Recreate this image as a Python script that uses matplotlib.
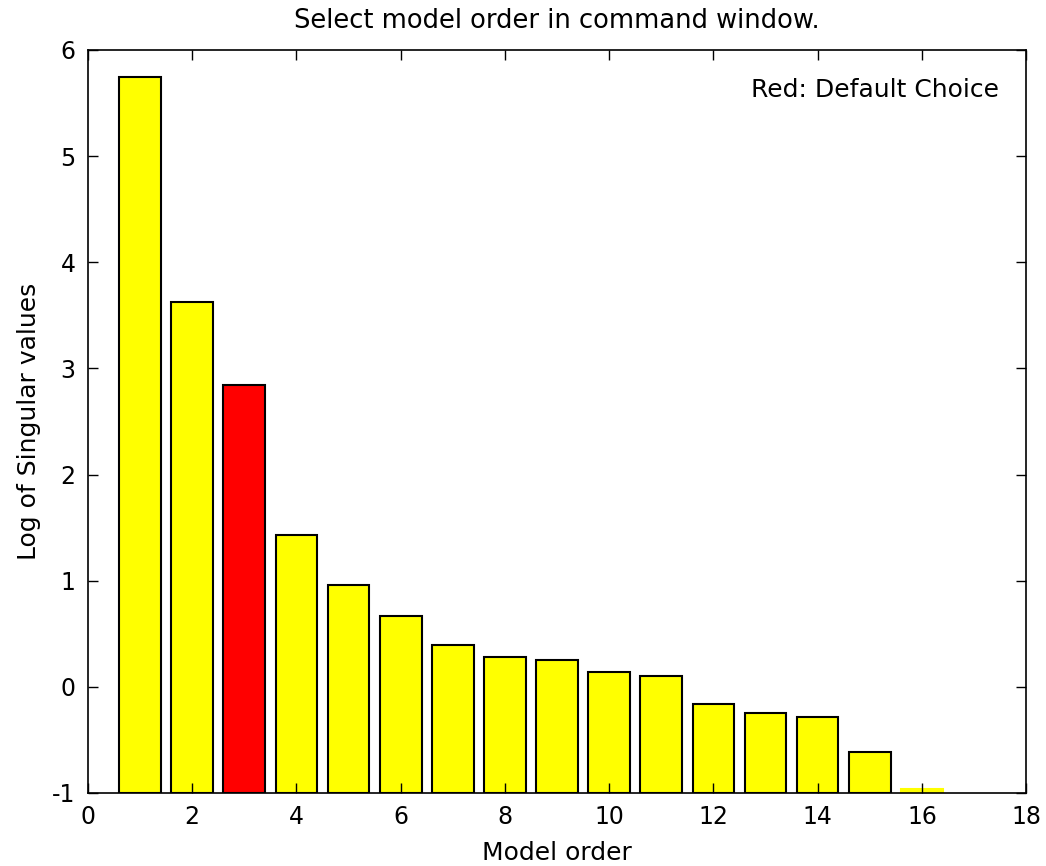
import matplotlib
matplotlib.use("Agg")
import matplotlib.pyplot as plt
import numpy as np

plt.rcParams['font.family'] = ['DejaVu Sans']
plt.rcParams['axes.unicode_minus'] = False

orders = list(range(1, 17))
log_sv = [5.75, 3.63, 2.84, 1.43, 0.96, 0.67, 0.39, 0.28, 0.25, 0.14, 0.10,
          -0.16, -0.245, -0.28, -0.61, -0.96]
default_order = 3
baseline = -1
x_ticks = [0, 2, 4, 6, 8, 10, 12, 14, 16, 18]
y_ticks = [-1, 0, 1, 2, 3, 4, 5, 6]

fig = plt.figure(figsize=(10.46, 8.66), dpi=100)
ax = fig.add_axes([0.0841, 0.0843, 0.8969, 0.858])

heights = [v - baseline for v in log_sv]
colors = ['red' if o == default_order else 'yellow' for o in orders]
edges = ['black'] * (len(orders) - 1) + ['yellow']
ax.bar(orders, heights, bottom=baseline, width=0.8, color=colors,
       edgecolor=edges, linewidth=1.5)

ax.set_xlim(0, 18)
ax.set_ylim(-1, 6)
ax.set_xticks(x_ticks)
ax.set_yticks(y_ticks)
ax.tick_params(direction='in', top=True, right=True, length=7, width=1,
               labelsize=17, pad=9)
for s in ax.spines.values():
    s.set_linewidth(1.2)

ax.set_xlabel('Model order', fontsize=18, labelpad=8)
ax.set_ylabel('Log of Singular values', fontsize=18, labelpad=8)
ax.set_title('Select model order in command window.', fontsize=18.5, pad=16)
ax.text(0.9715, 0.946, 'Red: Default Choice', transform=ax.transAxes,
        ha='right', va='center', fontsize=18)

fig.savefig('out.png', dpi=100)
